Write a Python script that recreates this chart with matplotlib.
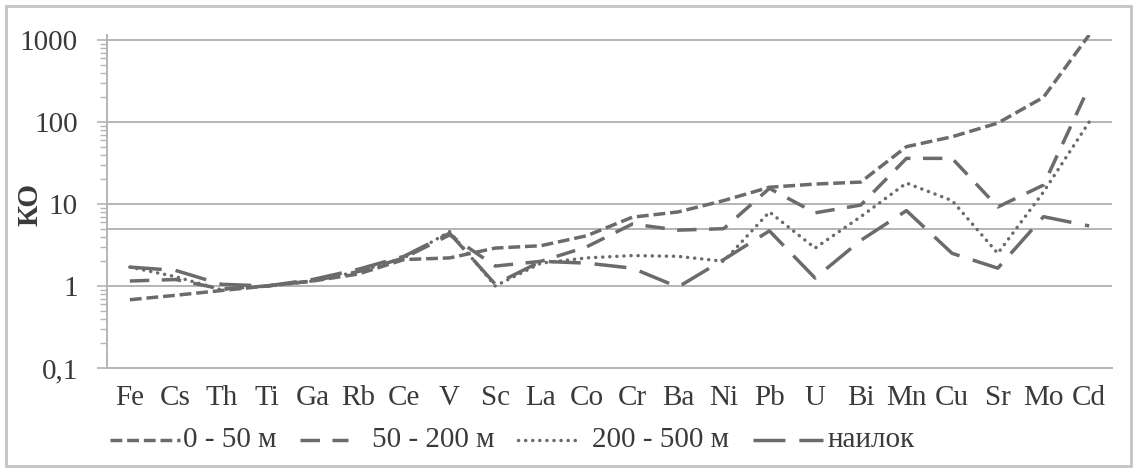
import matplotlib
matplotlib.use("Agg")
import matplotlib.pyplot as plt
from matplotlib.lines import Line2D
from matplotlib.patches import Rectangle
from matplotlib.ticker import FixedLocator, FixedFormatter, NullFormatter

elements = ['Fe', 'Cs', 'Th', 'Ti', 'Ga', 'Rb', 'Ce', 'V', 'Sc', 'La', 'Co',
            'Cr', 'Ba', 'Ni', 'Pb', 'U', 'Bi', 'Mn', 'Cu', 'Sr', 'Mo', 'Cd']

ko_0_50 = [0.68, 0.77, 0.88, 1.0, 1.15, 1.4, 2.1, 2.2, 2.9, 3.1, 4.1,
           6.9, 8.0, 11, 16, 17.5, 18.5, 50, 66, 97, 200, 1150]
ko_50_200 = [1.15, 1.2, 0.92, 1.0, 1.15, 1.5, 2.2, 4.2, 1.75, 2.0, 3.0,
             5.7, 4.8, 5.0, 15.5, 7.8, 9.7, 36, 36, 9.2, 17, 270]
ko_200_500 = [1.7, 1.3, 0.9, 1.0, 1.15, 1.5, 2.2, 4.6, 1.0, 1.9, 2.2,
              2.35, 2.3, 2.0, 8.0, 2.9, 7.0, 18, 11, 2.5, 14, 100]
ko_nailok = [1.7, 1.55, 1.05, 1.0, 1.2, 1.6, 2.3, 4.4, 1.05, 2.0, 1.9,
             1.65, 0.97, 2.1, 4.7, 1.25, 3.6, 8.3, 2.5, 1.65, 7.0, 5.4]

labels = ['0 - 50 м', '50 - 200 м', '200 - 500 м', 'наилок']
y_ticks = [0.1, 1, 10, 100, 1000]
y_tick_labels = ['0,1', '1', '10', '100', '1000']

plt.rcParams['font.family'] = ['Liberation Serif', 'DejaVu Serif']
plt.rcParams['lines.scale_dashes'] = False

line_color = '#6b6b6b'
grid_color = '#b4b4b8'
text_color = '#3a3a3a'
fs = 21

W, H = 1137, 471
fig = plt.figure(figsize=(W / 100, H / 100), dpi=100)
ax = fig.add_axes([107 / W, 1 - 368 / H, (1112 - 107) / W, (368 - 35) / H])

x = list(range(len(elements)))
styles = [
    dict(dashes=(8.5, 3.5)),
    dict(dashes=(14, 9)),
    dict(dashes=(0.1, 5), dash_capstyle='round'),
    dict(dashes=(23, 10)),
]
series = [ko_0_50, ko_50_200, ko_200_500, ko_nailok]
for vals, lab, st in zip(series, labels, styles):
    ax.plot(x, vals, color=line_color, lw=2.5, label=lab, **st)

ax.set_yscale('log')
ax.set_ylim(0.1, 1150)
ax.set_xlim(-0.5, len(elements) - 0.5)

for g in [1, 5, 10, 100, 1000]:
    ax.axhline(g, color=grid_color, lw=1.4, zorder=0)

ax.yaxis.set_major_locator(FixedLocator(y_ticks))
ax.yaxis.set_major_formatter(FixedFormatter(y_tick_labels))
ax.yaxis.set_minor_formatter(NullFormatter())
ax.tick_params(axis='y', which='major', length=7, width=1.2, color=grid_color,
               labelsize=fs, labelcolor=text_color, pad=14)
ax.tick_params(axis='y', which='minor', length=5, width=1.0, color=grid_color)

ax.set_xticks(x)
ax.set_xticklabels(elements)
ax.tick_params(axis='x', length=0, labelsize=fs, labelcolor=text_color, pad=12)

for s in ['top', 'right']:
    ax.spines[s].set_visible(False)
for s in ['left', 'bottom']:
    ax.spines[s].set_color(grid_color)
    ax.spines[s].set_linewidth(1.4)

fig.text(30 / W, 1 - 205 / H, 'КО', rotation=90, ha='center', va='center',
         fontsize=fs, fontweight='bold', color=text_color)

# legend drawn by hand: handle start/end and text start, in pixels
legend_y = 1 - 440 / H
legend_items = [(110, 180, 183), (300, 348, 372), (518, 580, 592), (753, 823, 828)]
for (x0, x1, tx), lab, st in zip(legend_items, labels, styles):
    fig.add_artist(Line2D([x0 / W, x1 / W], [legend_y, legend_y], color=line_color,
                          lw=2.5, transform=fig.transFigure, **st))
    fig.text(tx / W, legend_y, lab, ha='left', va='center', fontsize=fs,
             color=text_color)

fig.patches.append(Rectangle((6 / W, 5 / H), 1125 / W, 460 / H,
                             transform=fig.transFigure, fill=False,
                             edgecolor='#c4c4c4', lw=2))

fig.savefig('out.png', dpi=100)
